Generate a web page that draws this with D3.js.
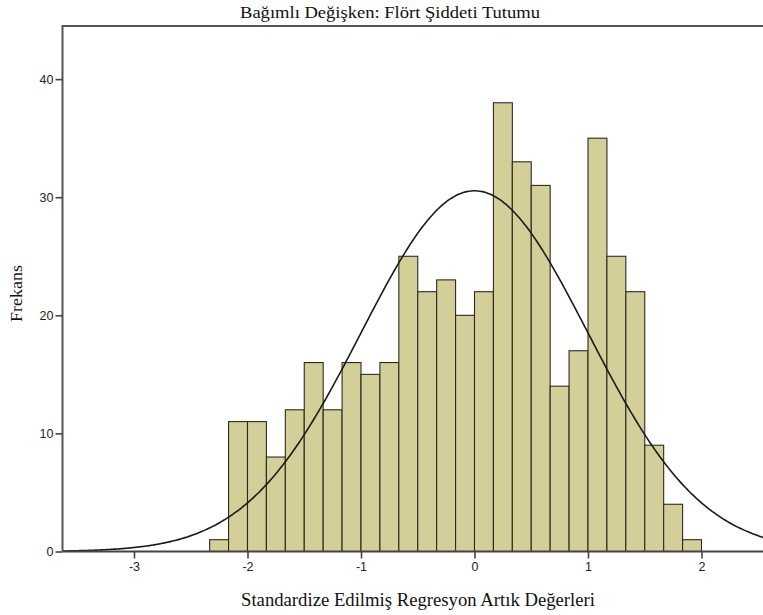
<!DOCTYPE html>
<html>
<head>
<meta charset="utf-8">
<script src="https://cdn.jsdelivr.net/npm/d3@7"></script>
<style>
  body { margin: 0; background: #fff; }
  svg { display: block; }
</style>
</head>
<body>
<svg id="chart"></svg>
<script>
// histogram of residuals, bins of 1/6 starting at -7/3
const binStart = -7 / 3;
const binWidth = 1 / 6;
const counts = [1, 11, 11, 8, 12, 16, 12, 16, 15, 16, 25, 22, 23, 20, 22, 38, 33, 31, 14, 17, 35, 25, 22, 9, 4, 1];
const xTicks = [-3, -2, -1, 0, 1, 2];
const yTicks = [0, 10, 20, 30, 40];
const mean = 0;
const stdDev = 0.999;

const W = 763, H = 615;
const plotLeft = 62.5, plotTop = 26, plotBottom = 551.5;

const svg = d3.select('#chart').attr('width', W).attr('height', H);

const x = d3.scaleLinear().domain([-3, 2]).range([134, 701.5]);
const y = d3.scaleLinear().domain([0, 44.5]).range([plotBottom, plotTop]);
const xMin = x.invert(plotLeft), xMax = x.invert(W + 20);

const bins = counts.map((c, i) => ({ x0: binStart + i * binWidth, x1: binStart + (i + 1) * binWidth, n: c }));
const total = d3.sum(counts);

svg.append('clipPath').attr('id', 'plot')
  .append('rect').attr('x', plotLeft).attr('y', plotTop).attr('width', W - plotLeft + 20).attr('height', plotBottom - plotTop);

const g = svg.append('g').attr('clip-path', 'url(#plot)');

g.selectAll('rect.bar')
  .data(bins)
  .enter()
  .append('rect')
  .attr('class', 'bar')
  .attr('x', d => x(d.x0))
  .attr('width', d => x(d.x1) - x(d.x0))
  .attr('y', d => y(d.n))
  .attr('height', d => y(0) - y(d.n))
  .attr('fill', '#d4cf98')
  .attr('stroke', '#2b2b20')
  .attr('stroke-width', 1.1)

// normal curve scaled to counts
const pdf = v => Math.exp(-0.5 * ((v - mean) / stdDev) ** 2) / (stdDev * Math.sqrt(2 * Math.PI));
const pts = d3.range(xMin, xMax, 0.02).map(v => [v, total * binWidth * pdf(v)]);

g.append('path')
  .datum(pts)
  .attr('fill', 'none')
  .attr('stroke', '#1a1a1a')
  .attr('stroke-width', 1.6)
  .attr('d', d3.line().x(d => x(d[0])).y(d => y(d[1])).curve(d3.curveBasis))

// frame
svg.append('path')
  .attr('d', `M${plotLeft},${plotBottom}V${plotTop}H${W + 5}`)
  .attr('fill', 'none').attr('stroke', '#555').attr('stroke-width', 2)
svg.append('line')
  .attr('x1', plotLeft).attr('x2', W + 5).attr('y1', plotBottom).attr('y2', plotBottom)
  .attr('stroke', '#444').attr('stroke-width', 2)

// axes
const xAxis = svg.append('g')
  .attr('transform', `translate(0,${plotBottom})`)
  .call(d3.axisBottom(x).tickValues(xTicks).tickSize(7).tickPadding(4).tickFormat(d3.format('d')))
const yAxis = svg.append('g')
  .attr('transform', `translate(${plotLeft},0)`)
  .call(d3.axisLeft(y).tickValues(yTicks).tickSize(7).tickPadding(2))

;[xAxis, yAxis].forEach(a => {
  a.select('.domain').remove()
  a.selectAll('line').attr('stroke', '#444').attr('stroke-width', 1.6)
  a.selectAll('text')
    .attr('font-family', 'Liberation Sans, Arial, sans-serif')
    .attr('font-size', 12.5)
    .attr('fill', '#222')
})
xAxis.selectAll('text').text(d => d < 0 ? '-' + Math.abs(d) : d)

const serif = 'Liberation Serif, Times New Roman, serif';

svg.append('text')
  .attr('x', 390).attr('y', 17.5)
  .attr('text-anchor', 'middle')
  .attr('font-family', serif).attr('font-size', 17.5).attr('fill', '#111')
  .attr('textLength', 300).attr('lengthAdjust', 'spacingAndGlyphs')
  .text('Bağımlı Değişken: Flört Şiddeti Tutumu')

svg.append('text')
  .attr('x', 418).attr('y', 605.5)
  .attr('text-anchor', 'middle')
  .attr('font-family', serif).attr('font-size', 18).attr('fill', '#111')
  .attr('textLength', 354).attr('lengthAdjust', 'spacingAndGlyphs')
  .text('Standardize Edilmiş Regresyon Artık Değerleri')

svg.append('text')
  .attr('transform', 'translate(22,293.5) rotate(-90)')
  .attr('text-anchor', 'middle')
  .attr('font-family', serif).attr('font-size', 17.5).attr('fill', '#111')
  .attr('textLength', 57).attr('lengthAdjust', 'spacingAndGlyphs')
  .text('Frekans')
</script>
</body>
</html>
